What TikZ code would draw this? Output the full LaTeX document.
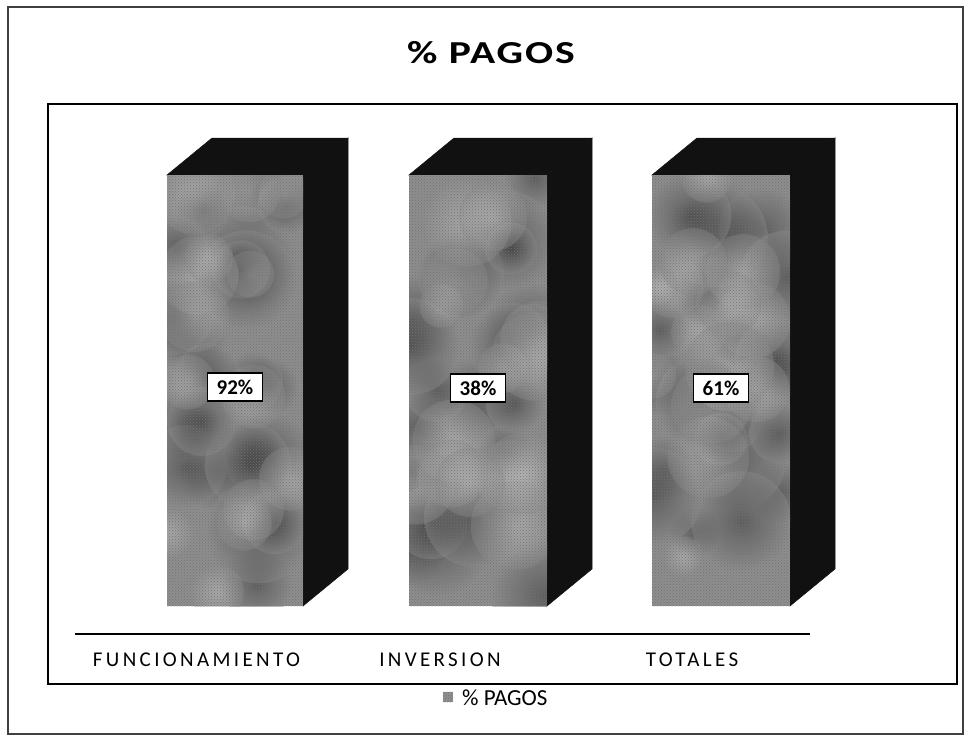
\documentclass[tikz,border=0pt]{standalone}
\usepackage{fontspec}
\setmainfont{Carlito}
\newfontfamily\axisfont[LetterSpace=16]{Carlito}
\newfontfamily\titlefont[FakeStretch=1.3,LetterSpace=6]{Carlito}
\usetikzlibrary{patterns}
\definecolor{facegray}{HTML}{8E8E8E}
\definecolor{dark}{HTML}{111111}
\tikzset{
  frontface/.style={fill=facegray},
  texture/.style={pattern=crosshatch dots, pattern color=black!55},
  darkface/.style={fill=dark, draw=dark, line width=0.5pt},
  valbox/.style={draw=black, line width=1.5pt, fill=white, minimum width=55pt, minimum height=28pt, inner sep=0pt, font=\fontsize{21}{24}\selectfont\bfseries},
  catlabel/.style={anchor=base, inner sep=0pt, font=\fontsize{21}{24}\selectfont\axisfont},
}
\begin{document}
\begin{tikzpicture}[x=1pt,y=-1pt]
\useasboundingbox (0,0) rectangle (964,736);
% outer frame
\draw[line width=1.3pt, black!75] (8,7) rectangle (963,734);
% inner plot frame
\draw[line width=2pt, black] (48,104) rectangle (957,684);
% title
\node[anchor=base, inner sep=0pt, font=\fontsize{32}{38}\selectfont\titlefont\bfseries] (title) at (491,63) {\% PAGOS};
% bars
\pgfmathsetseed{11}
\foreach \xl/\xr [count=\i] in {167/303, 409/547, 652/790}{
  \fill[darkface] (\xl,175) -- (\xl+45,138) -- (\xr+45,138) -- (\xr,175) -- cycle;
  \fill[darkface] (\xr,175) -- (\xr+45,138) -- (\xr+45,569) -- (\xr,606) -- cycle;
  \fill[frontface] (\xl,175) rectangle (\xr,606);
  \begin{scope}
    \clip (\xl,175) rectangle (\xr,606);
    \foreach \k in {1,...,22}{
      \pgfmathsetmacro{\px}{\xl+rnd*(\xr-\xl)}
      \pgfmathsetmacro{\py}{175+rnd*431}
      \pgfmathsetmacro{\rr}{25+rnd*30}
      \shade[inner color=black!75!facegray, outer color=facegray, opacity=0.45] (\px,\py) circle (\rr);
    }
    \foreach \k in {1,...,14}{
      \pgfmathsetmacro{\px}{\xl+rnd*(\xr-\xl)}
      \pgfmathsetmacro{\py}{175+rnd*431}
      \pgfmathsetmacro{\rr}{20+rnd*25}
      \shade[inner color=white!60!facegray, outer color=facegray, opacity=0.4] (\px,\py) circle (\rr);
    }
  \end{scope}
  \fill[texture] (\xl,175) rectangle (\xr,606);
}
% value labels
\node[valbox] (v1) at (235,387) {92\%};
\node[valbox] (v2) at (478,388) {38\%};
\node[valbox] (v3) at (721,388) {61\%};
% axis
\coordinate (axL) at (75,634);
\coordinate (axR) at (810,634);
\draw[line width=1.5pt] (axL) -- (axR);
% category labels
\node[catlabel] (c1) at (196.5,666) {FUNCIONAMIENTO};
\node[catlabel] (c2) at (440,666) {INVERSION};
\node[catlabel] (c3) at (692,666) {TOTALES};
% legend
\node[fill=facegray, minimum size=10pt, inner sep=0pt] (lkey) at (448,697) {};
\fill[texture] (lkey.south west) rectangle (lkey.north east);
\node[anchor=base west, inner sep=0pt, font=\fontsize{23}{27}\selectfont] (ltext) at (462,705) {\% PAGOS};
\end{tikzpicture}
\end{document}
